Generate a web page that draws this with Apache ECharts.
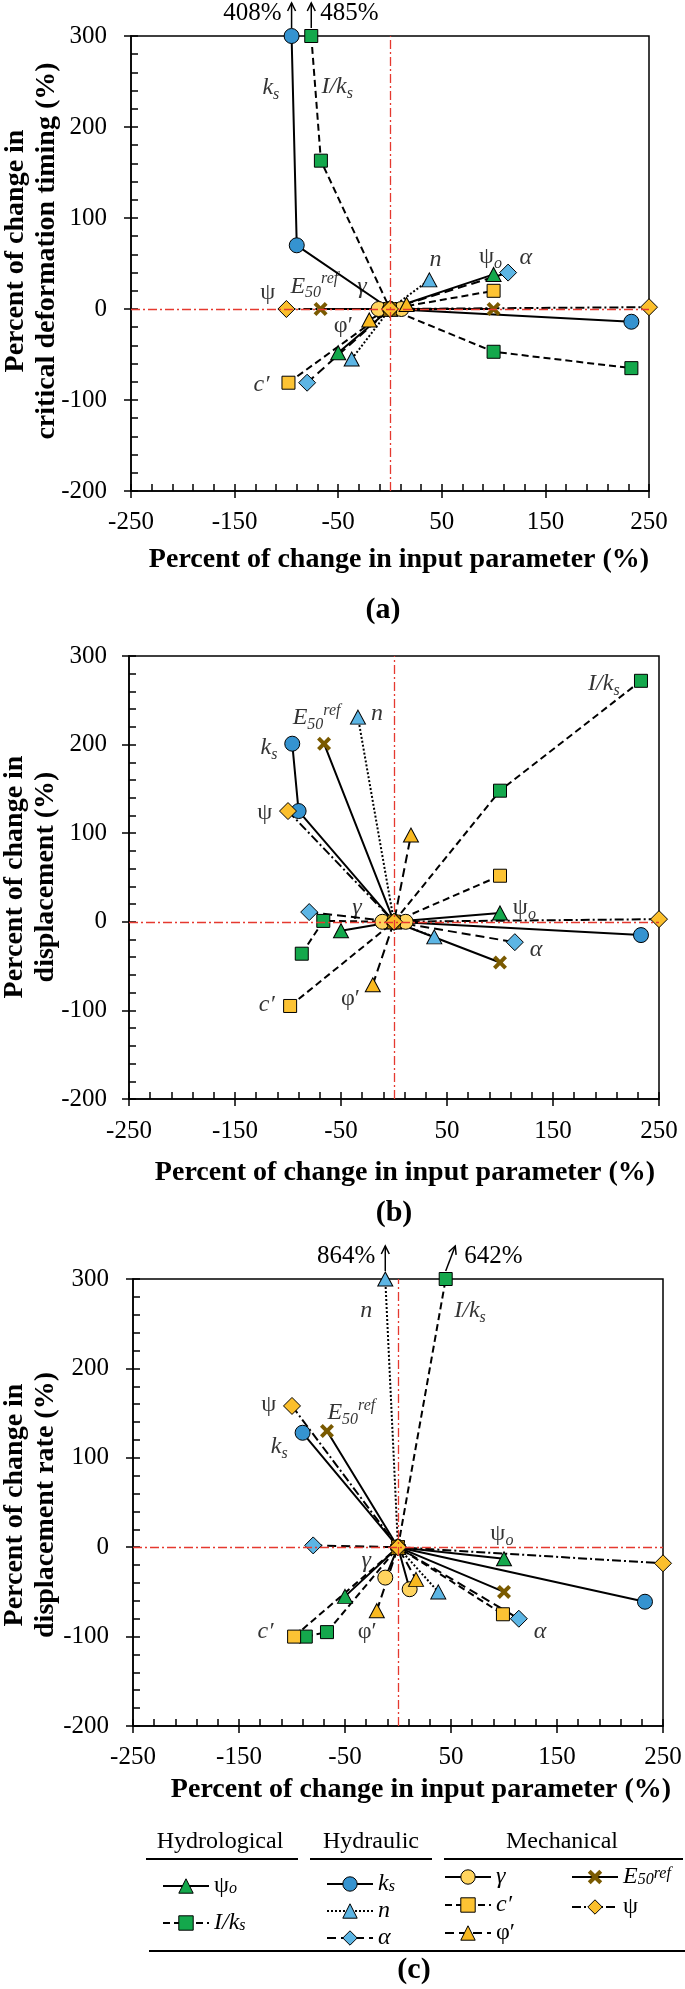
<!DOCTYPE html>
<html><head><meta charset="utf-8">
<script src="https://cdn.jsdelivr.net/npm/echarts@6/dist/echarts.min.js"></script>
<style>html,body{margin:0;padding:0;background:#fff}#c{width:685px;height:1989px}</style>
</head><body><div id="c"></div>
<script>
// ---------- DATA (percent change in input, percent change in output) ----------
// Panel (a): critical deformation timing
const a_psiO  = [[-50,-48],[0,0],[100,38]];
const a_Iks   = [[-76,300],[-66.7,163],[0,0],[100,-47],[233,-65]];
const a_ks    = [[-95,300],[-90,70],[0,0],[233,-14]];
const a_n     = [[-37,-55],[0,0],[38,32]];
const a_alpha = [[-80,-81],[0,0],[114,40]];
const a_gamma = [[-11,0],[0,0],[11,0]];
const a_c     = [[-98,-81],[0,0],[100,20]];
const a_phi   = [[-20,-12],[0,0],[16,5]];
const a_E50   = [[-67,0],[0,0],[100,0]];
const a_psi   = [[-100,0],[0,0],[250,2]];
// Panel (b): displacement
const b_psiO  = [[-50,-10],[0,0],[100,10]];
const b_Iks   = [[-87,-36],[-66.7,1],[0,0],[100,148],[233,272]];
const b_ks    = [[-96,201],[-90,125],[0,0],[233,-15]];
const b_n     = [[-34,231],[0,0],[38,-17]];
const b_alpha = [[-80,11],[0,0],[114,-23]];
const b_gamma = [[-11,0],[0,0],[11,0]];
const b_c     = [[-98,-95],[0,0],[100,52]];
const b_phi   = [[-20,-71],[0,0],[16,98]];
const b_E50   = [[-66,201],[0,0],[100,-46]];
const b_psi   = [[-100,125],[0,0],[250,3]];
// Panel (c): displacement rate
const c_psiO  = [[-50,-55],[0,0],[100,-13]];
const c_Iks   = [[-87,-100],[-67,-95],[0,0],[45,300]];
const c_ks    = [[-90,128],[0,0],[233,-61]];
const c_n     = [[-12,300],[0,0],[38,-50]];
const c_alpha = [[-80,2],[0,0],[114,-80]];
const c_gamma = [[-12,-34],[0,0],[11,-47]];
const c_c     = [[-98,-100],[0,0],[99,-75]];
const c_phi   = [[-20,-71],[0,0],[17,-36]];
const c_E50   = [[-67,130],[0,0],[100,-50]];
const c_psi   = [[-100,158],[0,0],[250,-18]];

// clipped points: [x at 300 line, x at arrow tip, true value %, text side (0 left / 1 right)]
const a_clip = [[-95,-95,408,0],[-76,-76,485,1]];
const b_clip = [];
const c_clip = [[-12,-12,864,0],[45,54,642,1]];

// in-plot parameter labels: [x, y, key]
const a_labels = [[-115,243,'ks'],[-51,244,'Iks'],[44,54,'n'],[97,57,'psiO'],[131,56,'alpha'],[-118,18,'psi'],[-73,25,'E50'],[-27,25,'gamma'],[-45,-18,'phi'],[-124,-83,'c']];
const b_labels = [[198,269,'Iks'],[-73,230,'E50'],[-16,235,'n'],[-118,196,'ks'],[-122,123,'psi'],[-35,16,'gamma'],[123,16,'psiO'],[134,-32,'alpha'],[-120,-93,'c'],[-41,-87,'phi']];
const c_labels = [[-30,264,'n'],[68,264,'Iks'],[-122,159,'psi'],[-44,150,'E50'],[-112,112,'ks'],[98,15,'psiO'],[-30,-15,'gamma'],[-125,-95,'c'],[-29,-95,'phi'],[134,-95,'alpha']];

const xTitle = 'Percent of change in input parameter (%)';
const yTitles = ['Percent of change in\ncritical deformation timing (%)','Percent of change in\ndisplacement (%)','Percent of change in\ndisplacement rate (%)'];
const panelTags = ['(a)','(b)','(c)'];
const groupHeads = ['Hydrological','Hydraulic','Mechanical'];

// ---------- STYLE ----------
const FONT = "'Liberation Serif','Times New Roman',serif";
const XPATH = 'path://M2,0 L5,3 L8,0 L10,2 L7,5 L10,8 L8,10 L5,7 L2,10 L0,8 L3,5 L0,2 Z';
const KEYS = ['psiO','Iks','ks','n','alpha','gamma','c','phi','E50','psi'];
const STYLE = {
  psiO:  {name:'ψo',    symbol:'triangle', size:[15,14], color:'#14a84c', dash:'solid'},
  Iks:   {name:'I/ks',  symbol:'rect',     size:13, color:'#14a84c', dash:[7,4]},
  ks:    {name:'ks',    symbol:'circle',   size:15, color:'#3593d0', dash:'solid'},
  n:     {name:'n',     symbol:'triangle', size:[15,14], color:'#5cb5e4', dash:[2,2]},
  alpha: {name:'α',     symbol:'diamond',  size:17, color:'#5cb5e4', dash:[9,5]},
  gamma: {name:'γ',     symbol:'circle',   size:15, color:'#ffd45e', dash:'solid'},
  c:     {name:'c′',    symbol:'rect',     size:13, color:'#fcc334', dash:[7,4]},
  phi:   {name:'φ′',    symbol:'triangle', size:[15,14], color:'#f9b920', dash:[9,5]},
  E50:   {name:'E50ref',symbol:XPATH,      size:14, color:'#7a5a00', dash:'solid', border:0},
  psi:   {name:'ψ',     symbol:'diamond',  size:17, color:'#fbbf2c', dash:[9,3,2,3]}
};
const RICH_TXT = {
  ks:'{i|k}{isub|s}', Iks:'{i|I/k}{isub|s}', n:'{i|n}', psiO:'{r|ψ}{isub|o}', alpha:'{i|α}',
  psi:'{r|ψ}', E50:'{i|E}{isub|50}{isup|ref}', gamma:'{i|γ}', phi:'{r|φ′}', c:'{i|c′}'
};
const NAME2KEY = {}; KEYS.forEach(k => NAME2KEY[STYLE[k].name] = k);
function richSet(lh){
  return {
    i:{fontFamily:FONT,fontStyle:'italic',fontSize:24,lineHeight:lh,color:'#000'},
    r:{fontFamily:FONT,fontSize:24,lineHeight:lh,color:'#000'},
    isub:{fontFamily:FONT,fontStyle:'italic',fontSize:16,verticalAlign:'bottom',color:'#000'},
    isup:{fontFamily:FONT,fontStyle:'italic',fontSize:16,verticalAlign:'top',color:'#000'}
  };
}
const PANELS = [
  {grid:{left:131,top:36,width:518,height:455}, xm:19, ym:24, ytx:31, yty:251, xtx:399, xty:560, tagx:383, tagy:610},
  {grid:{left:129,top:656,width:530,height:443}, xm:20, ym:22, ytx:30, yty:877, xtx:405, xty:1173, tagx:394, tagy:1213},
  {grid:{left:133,top:1279,width:530,height:447}, xm:19, ym:24, ytx:30, yty:1505, xtx:421, xty:1790, tagx:414, tagy:1970}
];
const DATA = [
  {psiO:a_psiO,Iks:a_Iks,ks:a_ks,n:a_n,alpha:a_alpha,gamma:a_gamma,c:a_c,phi:a_phi,E50:a_E50,psi:a_psi},
  {psiO:b_psiO,Iks:b_Iks,ks:b_ks,n:b_n,alpha:b_alpha,gamma:b_gamma,c:b_c,phi:b_phi,E50:b_E50,psi:b_psi},
  {psiO:c_psiO,Iks:c_Iks,ks:c_ks,n:c_n,alpha:c_alpha,gamma:c_gamma,c:c_c,phi:c_phi,E50:c_E50,psi:c_psi}
];
const LABELS = [a_labels,b_labels,c_labels];
const CLIPS = [a_clip,b_clip,c_clip];

const grids=[], xAxes=[], yAxes=[], series=[], graphics=[];
const blk = '#000';

function arrowItem(params, api){
  const x0=api.value(0), x1=api.value(1), v=api.value(2), side=api.value(3);
  const a=api.coord([x0,300]), b=api.coord([x1,300]);
  const sx=a[0], sy=a[1]-8, ex=b[0], ey=a[1]-33;
  let dx=ex-sx, dy=ey-sy; const L=Math.sqrt(dx*dx+dy*dy); dx/=L; dy/=L;
  const hx=ex-dx*8, hy=ey-dy*8, px=-dy*4, py=dx*4;
  return {type:'group',children:[
    {type:'line',shape:{x1:sx,y1:sy,x2:ex,y2:ey},style:{stroke:'#000',lineWidth:1.5}},
    {type:'polyline',shape:{points:[[hx+px,hy+py],[ex,ey],[hx-px,hy-py]]},style:{stroke:'#000',lineWidth:1.5,fill:null}},
    {type:'text',x:side===0?ex-10:ex+9,y:ey+10,
      style:{text:v+'%',font:'25px '+FONT,fill:'#000',align:side===0?'right':'left',verticalAlign:'middle'}}
  ]};
}

PANELS.forEach((P,p)=>{
  grids.push(Object.assign({show:true,borderColor:blk,borderWidth:1.5,backgroundColor:'transparent',containLabel:false},P.grid));
  xAxes.push({gridIndex:p,type:'value',position:'bottom',min:-250,max:250,interval:100,
    axisLine:{onZero:false,lineStyle:{color:blk,width:1.5}},
    axisTick:{inside:false,length:7,lineStyle:{color:blk,width:1.5}},
    axisLabel:{fontFamily:FONT,fontSize:25,color:blk,margin:P.xm},splitLine:{show:false}});
  xAxes.push({gridIndex:p,type:'value',position:'bottom',min:-250,max:250,interval:20,
    axisLine:{show:false,onZero:false},axisTick:{inside:true,length:7,lineStyle:{color:blk,width:1.5}},
    axisLabel:{show:false},splitLine:{show:false}});
  yAxes.push({gridIndex:p,type:'value',position:'left',min:-200,max:300,interval:100,
    axisLine:{onZero:false,lineStyle:{color:blk,width:1.5}},
    axisTick:{inside:false,length:7,lineStyle:{color:blk,width:1.5}},
    axisLabel:{fontFamily:FONT,fontSize:25,color:blk,margin:P.ym},splitLine:{show:false}});
  yAxes.push({gridIndex:p,type:'value',position:'left',min:-200,max:300,interval:20,
    axisLine:{show:false,onZero:false},axisTick:{inside:true,length:7,lineStyle:{color:blk,width:1.5}},
    axisLabel:{show:false},splitLine:{show:false}});
  const xi=2*p, yi=2*p;
  // red reference lines
  series.push({type:'line',xAxisIndex:xi,yAxisIndex:yi,data:[],z:1,silent:true,
    markLine:{silent:true,symbol:['none','none'],label:{show:false},
      lineStyle:{color:'#e5392f',width:1.3,type:[9,3,2,3]},data:[{xAxis:0},{yAxis:0}]}});
  KEYS.forEach(k=>{
    const S=STYLE[k];
    series.push({type:'line',name:S.name,xAxisIndex:xi,yAxisIndex:yi,data:DATA[p][k],
      symbol:S.symbol,symbolSize:S.size,showSymbol:true,showAllSymbol:true,clip:false,z:2,
      lineStyle:{color:blk,width:2,type:S.dash},
      itemStyle:{color:S.color,borderColor:blk,borderWidth:S.border===0?0:1},
      emphasis:{disabled:true}});
  });
  // parameter labels
  series.push({type:'scatter',xAxisIndex:xi,yAxisIndex:yi,silent:true,clip:false,z:5,symbolSize:1,
    itemStyle:{color:'rgba(0,0,0,0)'},
    data:LABELS[p].map(l=>({value:[l[0],l[1]],name:l[2]})),
    label:{show:true,position:'inside',formatter:q=>RICH_TXT[q.name],rich:richSet(30)}});
  // clipped-value arrows with their true values
  if (CLIPS[p].length){
    series.push({type:'custom',xAxisIndex:xi,yAxisIndex:yi,silent:true,clip:false,z:5,
      encode:{x:[0,1]},data:CLIPS[p],renderItem:arrowItem});
  }
  graphics.push({type:'text',x:P.ytx,y:P.yty,rotation:Math.PI/2,
    style:{text:yTitles[p],font:'bold 28px '+FONT,fill:blk,align:'center',verticalAlign:'middle',lineHeight:31}});
  graphics.push({type:'text',x:P.xtx,y:P.xty,
    style:{text:xTitle,font:'bold 28px '+FONT,fill:blk,align:'center',verticalAlign:'middle'}});
  graphics.push({type:'text',x:P.tagx,y:P.tagy,
    style:{text:panelTags[p],font:'bold 30px '+FONT,fill:blk,align:'center',verticalAlign:'middle'}});
});
// legend group headers and rules
const heads=[[220,146,298],[371,310,432],[562,444,683]];
heads.forEach((h,i)=>{
  graphics.push({type:'text',x:h[0],y:1842,style:{text:groupHeads[i],font:'24px '+FONT,fill:blk,align:'center',verticalAlign:'middle'}});
  graphics.push({type:'line',shape:{x1:h[1],y1:1859,x2:h[2],y2:1859},style:{stroke:blk,lineWidth:1.8}});
});
graphics.push({type:'line',shape:{x1:149,y1:1951,x2:685,y2:1951},style:{stroke:blk,lineWidth:1.8}});

const legCommon = {orient:'vertical',padding:0,itemWidth:46,itemHeight:18,selectedMode:false,
  textStyle:{fontFamily:FONT,fontSize:24,color:blk,rich:richSet(22)},
  formatter:name=>RICH_TXT[NAME2KEY[name]],
  itemStyle:{borderColor:blk,borderWidth:1}};
const legends = [
  Object.assign({left:162,top:1874,itemGap:13,data:['ψo','I/ks']},legCommon),
  Object.assign({left:326,top:1872,itemGap:3,data:['ks','n','α']},legCommon),
  Object.assign({left:444,top:1865,itemGap:4,data:['γ','c′','φ′']},legCommon),
  Object.assign({left:571,top:1865,itemGap:6,data:[{name:'E50ref',itemStyle:{borderWidth:0}},'ψ']},legCommon)
];

const chart = echarts.init(document.getElementById('c'),null,{renderer:'canvas'});
chart.setOption({animation:false,backgroundColor:'#fff',grid:grids,xAxis:xAxes,yAxis:yAxes,
  legend:legends,series:series,graphic:graphics});
</script></body></html>
